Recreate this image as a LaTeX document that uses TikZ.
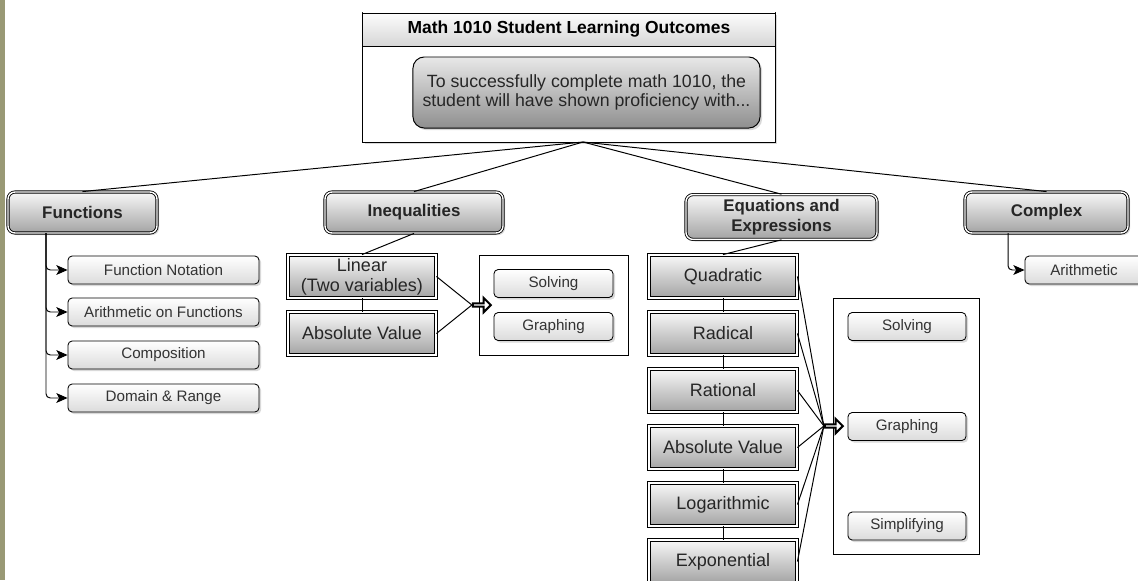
\documentclass[tikz,border=0pt]{standalone}
\usepackage{fontspec}
\setmainfont{Liberation Sans}
\usetikzlibrary{shapes,shadows,arrows,arrows.meta}
\definecolor{slidebar}{rgb}{0.60,0.60,0.46}
\definecolor{headtop}{rgb}{0.99,0.99,0.99}
\definecolor{headbottom}{rgb}{0.84,0.84,0.84}
\definecolor{introtop}{rgb}{0.91,0.91,0.91}
\definecolor{introbottom}{rgb}{0.56,0.56,0.56}
\definecolor{topictop}{rgb}{0.97,0.97,0.97}
\definecolor{topicbottom}{rgb}{0.64,0.64,0.64}
\definecolor{skilltop}{rgb}{1.00,1.00,1.00}
\definecolor{skillbottom}{rgb}{0.86,0.86,0.86}
\tikzstyle{softshadow}=[drop shadow={shadow xshift=1.5pt, shadow yshift=-1.5pt, opacity=0.3}]
\tikzstyle{sloframe}=[rectangle, draw, fill=white, line width=0.7pt, minimum width=10.3cm, minimum height=3.225cm, softshadow]
\tikzstyle{slohead}=[rectangle, draw, line width=0.7pt, top color=headtop, bottom color=headbottom, minimum width=10.3cm, minimum height=0.825cm, font=\bfseries\fontsize{12.4}{14}\selectfont]
\tikzstyle{slointro}=[rectangle, rounded corners=8pt, draw, line width=0.7pt, top color=introtop, bottom color=introbottom, minimum width=8.675cm, minimum height=1.775cm, align=center, font=\fontsize{12.6}{13.8}\selectfont, text=black!85, softshadow]
\tikzstyle{topic}=[rectangle, rounded corners=5pt, draw, double, double distance=1pt, line width=0.6pt, top color=topictop, bottom color=topicbottom, minimum height=1.025cm, align=center, font=\bfseries\fontsize{12}{14}\selectfont, text=black!85, softshadow]
\tikzstyle{form}=[rectangle, draw, double, double distance=1pt, line width=0.6pt, top color=topictop, bottom color=topicbottom, minimum width=3.7cm, minimum height=1.075cm, inner sep=1pt, align=center, font=\fontsize{12.8}{14.2}\selectfont, text=black!85, softshadow]
\tikzstyle{skill}=[rectangle, rounded corners=3pt, draw, line width=0.6pt, top color=skilltop, bottom color=skillbottom, minimum height=0.7cm, font=\fontsize{10.8}{13}\selectfont, text=black!80, softshadow]
\tikzstyle{group}=[rectangle, draw, line width=0.6pt]
\tikzstyle{junction}=[single arrow, draw, fill=white, line width=1.4pt, minimum height=0.45cm, minimum width=0.36cm, inner sep=0pt, single arrow head extend=0.08cm]
\tikzstyle{link}=[line width=0.7pt]
\tikzstyle{feed}=[line width=0.7pt, -{Stealth[length=8pt, width=7pt, inset=2pt]}, rounded corners=3pt]
\newcommand{\topicbox}[4]{
	\node[topic, minimum width=#3] (#1) at (#2) {#4};}
\newcommand{\formbox}[3]{
	\node[form] (#1) at (#2) {#3};}
\newcommand{\skillbox}[4]{
	\node[skill, minimum width=#3] (#1) at (#2) {#4};}

\begin{document}
\begin{tikzpicture}[x=0.025cm, y=-0.025cm]
\useasboundingbox (0,0) rectangle (1138,580);
\fill[slidebar] (0,0) rectangle (5,580);

\node[sloframe] (slo) at (569,77.5) {};
\node[slohead] (slotitle) at (569,29.5) {Math 1010 Student Learning Outcomes};
\node[slointro] (intro) at (586.5,92.5) {To successfully complete math 1010, the\\student will have shown proficiency with...};
\coordinate (hub) at (583,142);

\topicbox{func}{82.5,212.5}{3.725cm}{Functions}
\topicbox{ineq}{414,212.5}{4.45cm}{Inequalities}
\topicbox{eqex}{781.5,217}{4.775cm}{Equations and\\Expressions}
\topicbox{cplx}{1046.5,212.5}{4.075cm}{Complex}
\path[link] (hub) edge (func.north);
\path[link] (hub) edge (ineq.north);
\path[link] (hub) edge (eqex.north);
\path[link] (hub) edge (cplx.north);

% functions
\skillbox{fnot}{163.5,270}{4.775cm}{Function Notation}
\skillbox{farith}{163.5,312}{4.775cm}{Arithmetic on Functions}
\skillbox{fcomp}{163.5,355}{4.775cm}{Composition}
\skillbox{fdom}{163.5,398}{4.775cm}{Domain \& Range}
\coordinate (fnrail) at (46,233);
\draw[feed] (fnrail) |- (fnot);
\draw[feed] (fnrail) |- (farith);
\draw[feed] (fnrail) |- (fcomp);
\draw[feed] (fnrail) |- (fdom);

% inequalities
\formbox{ilin}{362,276.5}{Linear\\(Two variables)}
\formbox{iabs}{362,333.5}{Absolute Value}
\path[link] (ineq.south) edge (ilin.north);
\path[link] (ilin) edge (iabs);
\node[group, minimum width=3.725cm, minimum height=2.5cm] (igroup) at (553.5,305) {};
\skillbox{isolve}{553.5,283.5}{2.975cm}{Solving}
\skillbox{igraph}{553.5,326.5}{2.975cm}{Graphing}
\node[junction] (ijoin) at (481,305) {};
\path[link] (ilin.east) edge (ijoin.tail);
\path[link] (iabs.east) edge (ijoin.tail);

% equations and expressions
\formbox{equad}{723,276.5}{Quadratic}
\formbox{erad}{723,333.5}{Radical}
\formbox{erat}{723,390.5}{Rational}
\formbox{eabs}{723,447.5}{Absolute Value}
\formbox{elog}{723,504.5}{Logarithmic}
\formbox{eexp}{723,561.5}{Exponential}
\path[link] (eqex.south) edge (equad.north);
\path[link] (equad) edge (erad);
\path[link] (erad) edge (erat);
\path[link] (erat) edge (eabs);
\path[link] (eabs) edge (elog);
\path[link] (elog) edge (eexp);
\node[group, minimum width=3.65cm, minimum height=6.4cm] (egroup) at (906,426) {};
\skillbox{esolve}{907,326.5}{2.95cm}{Solving}
\skillbox{egraph}{907,426.5}{2.95cm}{Graphing}
\skillbox{esimp}{907,526}{2.95cm}{Simplifying}
\node[junction] (ejoin) at (833,426) {};
\path[link] (equad.east) edge (ejoin.tail);
\path[link] (erad.east) edge (ejoin.tail);
\path[link] (erat.east) edge (ejoin.tail);
\path[link] (eabs.east) edge (ejoin.tail);
\path[link] (elog.east) edge (ejoin.tail);
\path[link] (eexp.east) edge (ejoin.tail);

% complex
\skillbox{carith}{1084,270}{2.95cm}{Arithmetic}
\coordinate (cxrail) at (1008,233);
\draw[feed] (cxrail) |- (carith);
\end{tikzpicture}
\end{document}
